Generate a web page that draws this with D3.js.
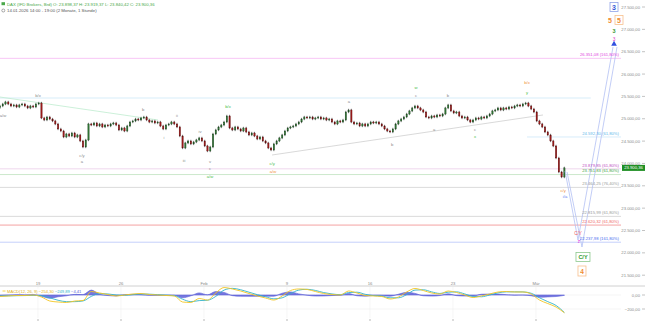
<!DOCTYPE html>
<html>
<head>
<meta charset="utf-8">
<script src="https://cdn.jsdelivr.net/npm/d3@7"></script>
<style>
  html, body { margin: 0; padding: 0; background: #fff; }
  svg { display: block; font-family: "Liberation Sans", Arial, sans-serif; }
</style>
</head>
<body>
<div id="chart"></div>
<script>
// DAX CFD, sampled 6 candles per trading day, first candle 14.01. late session
const firstDay = -0.29;
const perDay = 6;
const firstOpen = 25250;
const closes = [
  25285, 25330, 25375, 25330, 25285, 25308, 25263, 25308, 25330, 25285,
  25241, 25285, 25263, 25330, 25352, 25017, 24972, 25039, 24994, 24950,
  24883, 24771, 24726, 24592, 24659, 24614, 24681, 24592, 24637, 24503,
  24368, 24525, 24883, 24860, 24905, 24838, 24883, 24816, 24860, 24838,
  24883, 24905, 24860, 24749, 24793, 24726, 24838, 24927, 24950, 24994,
  24972, 25017, 25039, 24972, 24927, 24950, 24905, 24927, 24838, 24771,
  24860, 24883, 24927, 24883, 24816, 24614, 24346, 24458, 24503, 24436,
  24480, 24525, 24570, 24503, 24391, 24279, 24368, 24659, 24749, 24816,
  24860, 24927, 25062, 24793, 24749, 24816, 24771, 24726, 24793, 24704,
  24637, 24681, 24614, 24547, 24592, 24503, 24458, 24346, 24301, 24436,
  24503, 24570, 24637, 24726, 24793, 24816, 24838, 24883, 24927, 24994,
  25039, 25017, 25039, 24994, 25017, 25039, 24994, 25017, 24972, 24994,
  24927, 24883, 24950, 24927, 24972, 25151, 25196, 24927, 24883, 24905,
  24838, 24883, 24838, 24883, 24927, 24905, 24927, 24883, 24838, 24771,
  24726, 24704, 24771, 24883, 24950, 24994, 25039, 25106, 25174, 25241,
  25285, 25241, 25196, 25151, 25039, 25017, 25062, 25039, 25084, 25062,
  25106, 25241, 25308, 25174, 25129, 25151, 25062, 25017, 25039, 24972,
  24927, 24972, 25017, 24994, 25039, 25017, 25062, 25106, 25174, 25196,
  25241, 25196, 25241, 25218, 25263, 25241, 25285, 25308, 25285, 25330,
  25352, 25285, 25218, 25151, 24950, 24883, 24816, 24704, 24637, 24503,
  24391, 24122, 23809, 23697, 23900.36
];

// MACD(12, 26, 9), one value every 3 candles
const macdStep = 3;
const macdLine = [
  -21, -14, -7, -7, 0, -29, -86, -100, -107, -86,
  -79, 50, 29, 7, -14, 0, 14, 21, 7, 0,
  -7, -14, -100, -107, -50, -72, 29, 107, 86, 57,
  21, -14, -43, -72, -14, 64, 86, 79, 50, 21,
  7, 0, 57, 29, -7, -14, -21, -57, -29, 43,
  93, 64, 29, 14, 57, 36, 0, -36, -14, 14,
  43, 50, 43, 43, 14, -72, -122, -172, -254.30
];
const signalLine = [
  -14, -12, -10, -8, -5, -10, -40, -75, -95, -95,
  -85, -20, 20, 15, 0, -5, 5, 15, 12, 5,
  -2, -10, -60, -95, -80, -75, -20, 70, 95, 75,
  40, 5, -25, -55, -40, 20, 70, 82, 65, 35,
  15, 5, 35, 40, 10, -8, -15, -40, -40, 5,
  70, 75, 45, 22, 40, 45, 15, -20, -25, 0,
  30, 45, 45, 44, 25, -40, -95, -150, -249.89
];

// axis ticks (x in trading days)
const dayTickLabels = ["19", "26", "Feb", "9", "16", "23", "Mär"];
const dayTickDays = [2, 7, 12, 17, 22, 27, 32];
const priceTicks = [27500, 27000, 26500, 26000, 25500, 25000, 24500, 24000, 23500, 23000, 22500, 22000, 21500];
const macdTicks = [0, -200];

// fibonacci levels
const fibLevels = [26351.08, 24592.30, 23879.85, 23751.83, 23464.25, 22815.99, 22620.32, 22237.98];
const fibPercent = ["161,80%", "61,80%", "61,80%", "61,80%", "76,40%", "61,80%", "61,80%", "161,80%"];
const fibFromDay = [-0.29, 31.46, -0.29, -0.29, -0.29, -0.29, -0.29, -0.29];

// trend / projection lines [day, price]
const cyanLevel = [[-0.29, 25464], [35.3, 25464]];
const greenTrend = [[-0.29, 25486], [9.23, 24972]];
const grayTrend = [[16.1, 24189], [32.42, 25084]];
const projA = [[33.75, 23831], [34.53, 22288], [36.64, 26605]];
const projB = [[33.87, 23809], [34.77, 22131], [36.88, 26605]];

// wave labels [text, day, price]
const grayLabels = [
  ["a/w", -0.11, 25062], ["b/x", 2.0, 25509], ["c/y", 4.65, 24167], ["a", 4.65, 24033],
  ["b", 8.33, 25196], ["ii", 10.37, 25062], ["i", 9.59, 24570], ["iii", 10.8, 24077],
  ["iv", 11.76, 24704], ["v", 12.36, 24033], ["c", 12.36, 23898], ["a", 20.73, 25397],
  ["b", 23.33, 24435], ["c", 24.77, 25531], ["b", 26.7, 25531], ["a", 25.86, 24749],
  ["c", 28.33, 24749]
];
const greenLabels = [
  ["a/w", 12.36, 23697], ["b/x", 13.45, 25285], ["c/y", 16.1, 24010],
  ["w", 24.77, 25688], ["x", 28.33, 24592], ["y", 31.46, 25598]
];
const orangeLabels = [["a/w", 16.16, 23809], ["b/x", 31.46, 25822], ["c/y", 33.63, 23406]];
const blueLabels = [["i/a", 33.75, 23250]];
const redLabels = [["C/Y", 34.53, 22422]];
const magentaLabels = [["z", 34.59, 22265]];

const W = 645, H = 321;
const fibColors = ["#e23fe0", "#5fb6ea", "#c04cc4", "#3f9f3f", "#9a9a9a", "#9a9a9a", "#f06464", "#4c6cf0"];
const fibLineColors = ["#f6b9f4", "#cce6f8", "#ebcdea", "#bfe2bf", "#d2d2d2", "#d2d2d2", "#f9caca", "#b6c4fa"];

const x = d3.scaleLinear().domain([0, 32]).range([4.8, 4.8 + 32 * 16.6]);
const y = d3.scaleLinear().domain([21500, 27500]).range([275.2, 7]);
const ym = d3.scaleLinear().domain([-200, 0]).range([309, 295]);

const loc = d3.formatLocale({ decimal: ",", thousands: ".", grouping: [3], currency: ["", ""] });
const fmt = loc.format(",.2f");

const svg = d3.select("#chart").append("svg").attr("width", W).attr("height", H);

const plotRight = 621;

// clip for the price pane
svg.append("clipPath").attr("id", "pclip").append("rect")
  .attr("x", 0).attr("y", 0).attr("width", plotRight).attr("height", 280);

const price = svg.append("g").attr("clip-path", "url(#pclip)");
const line = d3.line().x(d => x(d[0])).y(d => y(d[1]));

// fib lines
fibLevels.forEach((v, i) => {
  price.append("line")
    .attr("x1", Math.max(0, x(fibFromDay[i]))).attr("x2", plotRight)
    .attr("y1", y(v)).attr("y2", y(v))
    .attr("stroke", fibLineColors[i]).attr("stroke-width", i === 6 ? 1.6 : 0.8);
});

price.append("path").attr("d", line(cyanLevel)).attr("fill", "none").attr("stroke", "#cde9f8").attr("stroke-width", 0.8);
price.append("path").attr("d", line(greenTrend)).attr("fill", "none").attr("stroke", "#bfeccf").attr("stroke-width", 0.8);
price.append("path").attr("d", line(grayTrend)).attr("fill", "none").attr("stroke", "#cfcfcf").attr("stroke-width", 0.8);

// candles
const wickPts = 26;
const candles = closes.map((c, i) => {
  const o = i ? closes[i - 1] : firstOpen;
  return { t: firstDay + i / perDay, o, c, h: Math.max(o, c) + wickPts, l: Math.min(o, c) - wickPts };
});

const cg = price.append("g");
cg.selectAll("line").data(candles).join("line")
  .attr("x1", d => x(d.t)).attr("x2", d => x(d.t))
  .attr("y1", d => y(d.h)).attr("y2", d => y(d.l))
  .attr("stroke", "#1a1a1a").attr("stroke-width", 0.6);
cg.selectAll("rect").data(candles).join("rect")
  .attr("x", d => x(d.t) - 0.7).attr("width", 1.4)
  .attr("y", d => y(Math.max(d.o, d.c)))
  .attr("height", d => Math.max(0.6, Math.abs(y(d.o) - y(d.c))))
  .attr("fill", d => d.c >= d.o ? "#2f7233" : "#9a1a1a")
  .attr("stroke", d => d.c >= d.o ? "#1f4a22" : "#5e1010").attr("stroke-width", 0.3);

// projections
[projA, projB].forEach(p => {
  svg.append("path").attr("d", line(p)).attr("fill", "none").attr("stroke", "#b3c0f4").attr("stroke-width", 0.8);
});

// fib labels
fibLevels.forEach((v, i) => {
  svg.append("text")
    .attr("x", 619).attr("y", y(v) - 2.2)
    .attr("text-anchor", "end")
    .attr("font-size", 4.2)
    .attr("fill", fibColors[i])
    .text(`${fmt(v)} (${fibPercent[i]})`);
});

// wave labels
function waveLabels(list, color, size) {
  svg.append("g").selectAll("text").data(list).join("text")
    .attr("x", d => x(d[1])).attr("y", d => y(d[2]))
    .attr("text-anchor", "middle").attr("dominant-baseline", "central")
    .attr("font-size", size).attr("fill", color)
    .text(d => d[0]);
}
waveLabels(grayLabels, "#8c8c8c", 4.2);
waveLabels(greenLabels, "#4cc04c", 4.2);
waveLabels(orangeLabels, "#f0923c", 4.2);
waveLabels(blueLabels, "#5a78f0", 4.2);
waveLabels(redLabels, "#f06060", 4.6);
waveLabels(magentaLabels, "#e030e0", 4.6);

// boxed wave degree labels on the right
function boxLabel(t, day, p, color, size, bw, bh) {
  const cx = x(day), cy = y(p);
  svg.append("rect").attr("x", cx - bw / 2).attr("y", cy - bh / 2).attr("width", bw).attr("height", bh)
    .attr("fill", "#fff").attr("stroke", color).attr("stroke-opacity", 0.55).attr("stroke-width", 0.8);
  svg.append("text").attr("x", cx).attr("y", cy + 0.3).attr("text-anchor", "middle").attr("dominant-baseline", "central")
    .attr("font-size", size).attr("font-weight", "bold").attr("fill", color).text(t);
}
boxLabel("3", 36.7, 27500, "#3557d6", 7, 8, 9);
boxLabel("5", 37.0, 27209, "#f08a30", 7, 8, 9);
boxLabel("C/Y", 34.83, 21907, "#2d9a2d", 5.5, 14, 9);
boxLabel("4", 34.77, 21594, "#f08a30", 6.5, 8, 10);

svg.append("text").attr("x", x(36.46)).attr("y", y(27209)).attr("text-anchor", "middle").attr("dominant-baseline", "central")
  .attr("font-size", 7).attr("font-weight", "bold").attr("fill", "#f08a30").text("5");
svg.append("text").attr("x", x(36.7)).attr("y", y(26963)).attr("text-anchor", "middle").attr("dominant-baseline", "central")
  .attr("font-size", 5.5).attr("font-weight", "bold").attr("fill", "#3a9a3a").text("3");
svg.append("text").attr("x", x(36.7)).attr("y", y(26784)).attr("text-anchor", "middle").attr("dominant-baseline", "central")
  .attr("font-size", 4.8).attr("fill", "#e030c8").text("3");
svg.append("path")
  .attr("d", d3.symbol(d3.symbolTriangle, 14)())
  .attr("transform", `translate(${x(36.7)},${y(26672)})`)
  .attr("fill", "#3050e0");

// price axis
const ax = svg.append("g").attr("font-size", 4.2).attr("fill", "#8a8a8a");
priceTicks.forEach(v => {
  ax.append("text").attr("x", 640).attr("y", y(v)).attr("text-anchor", "end")
    .attr("dominant-baseline", "central").text(fmt(v));
  ax.append("line").attr("x1", 642).attr("x2", 645).attr("y1", y(v)).attr("y2", y(v))
    .attr("stroke", "#9a9a9a").attr("stroke-width", 0.6);
});

// last price tag
const last = closes[closes.length - 1];
svg.append("rect").attr("x", 622).attr("y", y(last) - 3).attr("width", 23).attr("height", 6).attr("fill", "#1f8f24");
svg.append("text").attr("x", 633.5).attr("y", y(last)).attr("text-anchor", "middle").attr("dominant-baseline", "central")
  .attr("font-size", 4.2).attr("fill", "#fff").text(fmt(last));

// header
svg.append("rect").attr("x", 1.5).attr("y", 2.2).attr("width", 3.5).attr("height", 3).attr("fill", "#4aa84a");
svg.append("text").attr("x", 7).attr("y", 4).attr("dominant-baseline", "central").attr("font-size", 4.3).attr("fill", "#48a848")
  .text("DAX (IFD Brokers, Brd)  O: 23.898,37  H: 23.919,37  L: 23.840,42  C: 23.900,36");
svg.append("circle").attr("cx", 3.3).attr("cy", 10.5).attr("r", 1.5).attr("fill", "none").attr("stroke", "#555").attr("stroke-width", 0.5);
svg.append("text").attr("x", 7).attr("y", 10.5).attr("dominant-baseline", "central").attr("font-size", 4.3).attr("fill", "#555")
  .text("14.01.2026 14:00 - 19:00   (2 Monate, 1 Stunde)");

// x axis / separator
svg.append("line").attr("x1", 0).attr("x2", W).attr("y1", 286).attr("y2", 286).attr("stroke", "#c4c4c4").attr("stroke-width", 0.8);
dayTickDays.forEach((d, i) => {
  svg.append("text").attr("x", x(d)).attr("y", 283).attr("text-anchor", "middle").attr("dominant-baseline", "central")
    .attr("font-size", 4.2).attr("fill", "#8a8a8a").text(dayTickLabels[i]);
  svg.append("line").attr("x1", x(d)).attr("x2", x(d)).attr("y1", 287).attr("y2", 318)
    .attr("stroke", "#f0f0f0").attr("stroke-width", 0.6);
  svg.append("line").attr("x1", x(d)).attr("x2", x(d)).attr("y1", 319).attr("y2", 321)
    .attr("stroke", "#8a8a8a").attr("stroke-width", 0.6);
});

// MACD pane
macdTicks.forEach(v => {
  svg.append("line").attr("x1", 0).attr("x2", 621).attr("y1", ym(v)).attr("y2", ym(v))
    .attr("stroke", "#eeeeee").attr("stroke-width", 0.6);
  svg.append("text").attr("x", 640).attr("y", ym(v)).attr("text-anchor", "end").attr("dominant-baseline", "central")
    .attr("font-size", 4.2).attr("fill", "#8a8a8a").text(fmt(v));
  svg.append("line").attr("x1", 642).attr("x2", 645).attr("y1", ym(v)).attr("y2", ym(v))
    .attr("stroke", "#9a9a9a").attr("stroke-width", 0.6);
});

const mt = i => x(firstDay + i * macdStep / perDay);
const hist = macdLine.map((m, i) => m - signalLine[i]);
svg.append("path")
  .attr("d", d3.area().x((d, i) => mt(i)).y0(ym(0)).y1(d => ym(d)).curve(d3.curveMonotoneX)(hist))
  .attr("fill", "#5d5fd8").attr("fill-opacity", 0.85)
  .attr("stroke", "#5d5fd8").attr("stroke-width", 0.6);
svg.append("path")
  .attr("d", d3.line().x((d, i) => mt(i)).y(d => ym(d)).curve(d3.curveMonotoneX)(signalLine))
  .attr("fill", "none").attr("stroke", "#33b3c9").attr("stroke-width", 0.9);
svg.append("path")
  .attr("d", d3.line().x((d, i) => mt(i)).y(d => ym(d)).curve(d3.curveMonotoneX)(macdLine))
  .attr("fill", "none").attr("stroke", "#f3c521").attr("stroke-width", 0.9);

// MACD legend
const lg = svg.append("g");
lg.append("rect").attr("x", 1).attr("y", 288.5).attr("width", 83).attr("height", 5).attr("fill", "#fff").attr("fill-opacity", 0.9);
lg.append("line").attr("x1", 2.5).attr("x2", 5.5).attr("y1", 291).attr("y2", 291).attr("stroke", "#f3c521").attr("stroke-width", 0.8);
const lt = lg.append("text").attr("x", 7).attr("y", 291).attr("dominant-baseline", "central").attr("font-size", 4.1);
lt.append("tspan").attr("fill", "#e0b020").text("MACD(12, 26, 9)  ");
lt.append("tspan").attr("fill", "#e6b41c").text(fmt(macdLine[macdLine.length - 1]) + "  ");
lt.append("tspan").attr("fill", "#33b3c9").text(fmt(signalLine[signalLine.length - 1]) + "  ");
lt.append("tspan").attr("fill", "#5d5fd8").text(fmt(hist[hist.length - 1]));
</script>
</body>
</html>
